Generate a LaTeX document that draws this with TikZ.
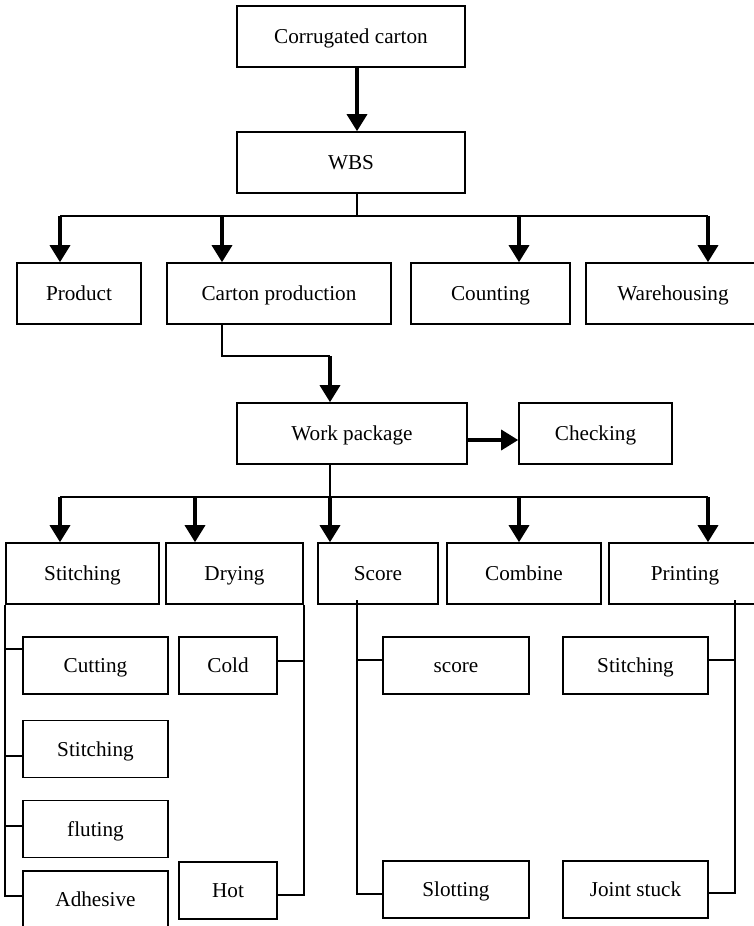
\documentclass[tikz,border=0pt]{standalone}
\usepackage{fontspec}
\setmainfont{Liberation Serif}
\usetikzlibrary{arrows.meta}
\begin{document}
\begin{tikzpicture}[x=0.5pt,y=-0.5pt,
  box/.style={draw,line width=0.8pt,inner sep=0pt,font=\fontsize{10.6}{12}\selectfont,
    text height=9pt,text depth=2pt,minimum height=30.5pt},
  sub/.style={box,minimum height=28.5pt},
  link/.style={line width=0.8pt},
  arrow/.style={line width=1.7pt,-{Triangle[length=8.5pt,width=10pt]}}]
\useasboundingbox (0,0) rectangle (754,926);

\node[box,minimum width=114pt] (corr) at (351,36.5) {Corrugated carton};
\node[box,minimum width=114pt] (wbs) at (351,162.5) {WBS};

\node[box,minimum width=62pt] (prod) at (79,293.5) {Product};
\node[box,minimum width=112pt] (cprod) at (279,293.5) {Carton production};
\node[box,minimum width=79.5pt] (count) at (490.5,293.5) {Counting};
\node[box,minimum width=87pt] (wareh) at (673,293.5) {Warehousing};

\node[box,minimum width=115pt] (wp) at (352,433.5) {Work package};
\node[box,minimum width=76.5pt] (check) at (595.5,433.5) {Checking};

\node[box,minimum width=76.5pt] (stitch) at (82.5,573.5) {Stitching};
\node[box,minimum width=68.5pt] (dry) at (234.5,573.5) {Drying};
\node[box,minimum width=60pt] (score) at (378,573.5) {Score};
\node[box,minimum width=77pt] (comb) at (524,573.5) {Combine};
\node[box,minimum width=76pt] (print) at (685,573.5) {Printing};

\node[sub,minimum width=72.5pt] (cut) at (95.5,665.5) {Cutting};
\node[sub,minimum width=72.5pt] (sstitch) at (95.5,749) {Stitching};
\node[sub,minimum width=72.5pt] (flute) at (95.5,829) {fluting};
\node[sub,minimum width=72.5pt] (adh) at (95.5,899.5) {Adhesive};
\node[sub,minimum width=49pt] (cold) at (228,665.5) {Cold};
\node[sub,minimum width=49pt] (hot) at (228,890.5) {Hot};
\node[sub,minimum width=73pt] (scr) at (456,665.5) {score};
\node[sub,minimum width=73pt] (slot) at (456,889.5) {Slotting};
\node[sub,minimum width=72.5pt] (pstitch) at (635.5,665.5) {Stitching};
\node[sub,minimum width=72.5pt] (joint) at (635.5,889.5) {Joint stuck};

\draw[arrow] ([xshift=3pt]corr.south) -- ([xshift=3pt]wbs.north);

\coordinate (hub) at (357,216);
\draw[link] ([xshift=3pt]wbs.south) -- (hub);
\foreach \n/\x in {prod/60,cprod/222,count/519,wareh/708}{
  \coordinate (t\n) at (\x,216);
  \draw[arrow] (t\n) -- (t\n |- \n.north);
}
\draw[link] (tprod) -- (twareh);

\coordinate (bend) at (330,356);
\draw[link] (tcprod |- cprod.south) |- (bend);
\draw[arrow] (bend) -- (bend |- wp.north);

\draw[arrow,line cap=round] ([yshift=-3.25pt]wp.east) -- ([yshift=-3.25pt]check.west);

\coordinate (hub2) at (330,497);
\draw[link] (hub2 |- wp.south) -- (hub2);
\foreach \n/\x in {stitch/60,dry/195,score/330,comb/519,print/708}{
  \coordinate (u\n) at (\x,497);
  \draw[arrow] (u\n) -- (u\n |- \n.north);
}
\draw[link] (ustitch) -- (uprint);

\foreach \n/\s in {cut/8.25,sstitch/-3.5,flute/1.5,adh/1.75}
  \draw[link] ([yshift=\s pt]\n.west) -| (stitch.south west);
\foreach \n/\s in {cold/2.25,hot/-2.25}
  \draw[link] ([yshift=\s pt]\n.east) -| (dry.south east);

\coordinate (sdrop) at (357,600);
\foreach \n/\s in {scr/2.75,slot/-2.25}
  \draw[link] ([yshift=\s pt]\n.west) -| (sdrop);
\coordinate (pdrop) at (735,600);
\foreach \n/\s in {pstitch/2.75,joint/-1.75}
  \draw[link] ([yshift=\s pt]\n.east) -| (pdrop);
\end{tikzpicture}
\end{document}
